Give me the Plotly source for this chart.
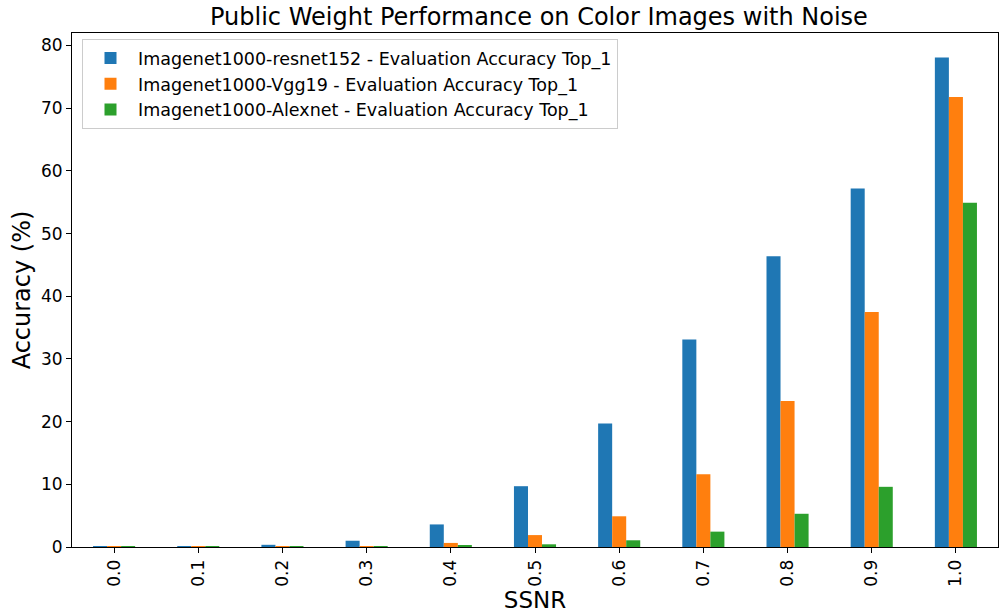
import plotly.graph_objects as go

ssnr = ["0.0", "0.1", "0.2", "0.3", "0.4", "0.5", "0.6", "0.7", "0.8", "0.9", "1.0"]
resnet152 = [0.05, 0.12, 0.35, 1.0, 3.6, 9.7, 19.7, 33.1, 46.4, 57.2, 78.1]
vgg19 = [0.1, 0.1, 0.1, 0.1, 0.65, 1.9, 4.9, 11.6, 23.3, 37.5, 71.8]
alexnet = [0.1, 0.1, 0.1, 0.1, 0.3, 0.43, 1.07, 2.45, 5.3, 9.6, 54.9]

names = [
    "Imagenet1000-resnet152 - Evaluation Accuracy Top_1",
    "Imagenet1000-Vgg19 - Evaluation Accuracy Top_1",
    "Imagenet1000-Alexnet - Evaluation Accuracy Top_1",
]
colors = ["#1f77b4", "#ff7f0e", "#2ca02c"]

fig = go.Figure()
for i, (name, vals, c) in enumerate(zip(names, [resnet152, vgg19, alexnet], colors)):
    fig.add_trace(go.Bar(x=ssnr, y=vals, name=name, legendgroup=f"g{i}",
                         marker=dict(color=c, line=dict(width=0))))

font = "DejaVu Sans"
fig.update_layout(
    template="none",
    width=999, height=613,
    margin=dict(l=72, r=1, t=33, b=66, autoexpand=False),
    paper_bgcolor="white", plot_bgcolor="white",
    barmode="group", bargap=0.5, bargroupgap=0,
    font=dict(family=font, color="black"),
    title=dict(text="Public Weight Performance on Color Images with Noise",
               x=0.5395, xanchor="center", y=0.973, yanchor="middle",
               font=dict(size=24, family=font, color="black")),
    showlegend=True,
    legend=dict(x=0.0108, y=0.988, xanchor="left", yanchor="top",
                bgcolor="rgba(255,255,255,0.8)", bordercolor="#cccccc", borderwidth=1,
                font=dict(size=17.5, family=font, color="black"),
                itemwidth=45, tracegroupgap=5, traceorder="normal"),
    xaxis=dict(
        type="category",
        title=dict(text="SSNR", font=dict(size=23, family=font), standoff=10),
        tickangle=-90, tickfont=dict(size=17, family=font),
        showline=True, linecolor="black", linewidth=1, mirror=True,
        ticks="outside", ticklen=5, tickcolor="black", showgrid=False,
        range=[-0.5, 10.5], automargin=False,
    ),
    yaxis=dict(
        title=dict(text="Accuracy (%)", font=dict(size=24, family=font), standoff=3),
        range=[0, 82.0], tickvals=[0, 10, 20, 30, 40, 50, 60, 70, 80],
        tickfont=dict(size=17, family=font),
        showline=True, linecolor="black", linewidth=1, mirror=True,
        ticks="outside", ticklen=5, tickcolor="black", showgrid=False, zeroline=False,
        automargin=False,
    ),
)

fig.write_html("out.html")
